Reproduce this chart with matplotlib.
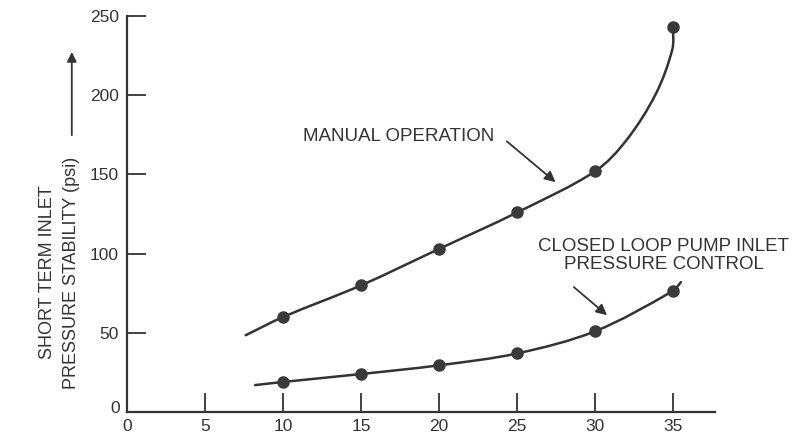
import numpy as np
import matplotlib.pyplot as plt
from matplotlib.path import Path
from matplotlib.patches import PathPatch

# measured points (markers)
manual_x = [10, 15, 20, 25, 30, 35]
manual_y = [60, 80, 103, 126, 152, 243]
closed_x = [10, 15, 20, 25, 30, 35]
closed_y = [19, 24, 29.5, 37, 51, 76.5]

# curve traces (line shape, incl. start/end of the lines)
manual_line_x = [7.6, 10, 15, 20, 25, 30, 32.0, 33.9, 34.95, 35]
manual_line_y = [48.5, 60, 80, 103, 126, 152, 171.5, 201, 229, 243]
closed_line_x = [8.2, 10, 15, 20, 25, 30, 35, 35.5]
closed_line_y = [17, 19, 24, 29.5, 37, 51, 76.5, 82]

x_ticks = [0, 5, 10, 15, 20, 25, 30, 35]
y_ticks = [0, 50, 100, 150, 200, 250]

INK = '#333333'
FONT = ['Liberation Sans', 'DejaVu Sans']
SX, SY = 15.6, 1.568  # rough px per data unit, for even curve spacing


def smooth_path(xs, ys):
    # non-uniform Catmull-Rom through the traced points -> cubic Beziers
    pts = np.column_stack([xs, ys]).astype(float)
    scaled = pts * [SX, SY]
    seg = np.linalg.norm(np.diff(scaled, axis=0), axis=1)
    t = np.concatenate([[0], np.cumsum(seg)])
    n = len(pts)
    tang = np.zeros_like(pts)
    tang[0] = (pts[1] - pts[0]) / (t[1] - t[0])
    tang[-1] = (pts[-1] - pts[-2]) / (t[-1] - t[-2])
    for i in range(1, n - 1):
        tang[i] = (pts[i + 1] - pts[i - 1]) / (t[i + 1] - t[i - 1])
    verts = [pts[0]]
    codes = [Path.MOVETO]
    for i in range(n - 1):
        h = t[i + 1] - t[i]
        verts += [pts[i] + tang[i] * h / 3, pts[i + 1] - tang[i + 1] * h / 3,
                  pts[i + 1]]
        codes += [Path.CURVE4] * 3
    return Path(verts, codes)


plt.rcParams['font.family'] = FONT

fig = plt.figure(figsize=(8.1, 4.44), dpi=100)
ax = fig.add_axes([0.157, 0.072, 0.726, 0.892])

for lx, ly in [(manual_line_x, manual_line_y), (closed_line_x, closed_line_y)]:
    ax.add_patch(PathPatch(smooth_path(lx, ly), facecolor='none',
                           edgecolor=INK, linewidth=1.8, capstyle='round'))

ax.plot(manual_x, manual_y, 'o', color='#3a3a3a', markersize=8, zorder=3)
ax.plot(closed_x, closed_y, 'o', color='#3a3a3a', markersize=8, zorder=3)

ax.set_xlim(0, 37.7)
ax.set_ylim(0, 250)
ax.set_xticks(x_ticks)
ax.set_yticks(y_ticks)
ax.set_xticklabels([str(v) for v in x_ticks])
ax.set_yticklabels([''] + [str(v) for v in y_ticks[1:]])
ax.tick_params(axis='both', direction='in', length=14, width=1.3, color=INK,
               labelsize=12.5, labelcolor=INK)
ax.tick_params(axis='y', pad=6)
ax.tick_params(axis='x', pad=5)
for s in ['top', 'right']:
    ax.spines[s].set_visible(False)
for s in ['left', 'bottom']:
    ax.spines[s].set_color(INK)
    ax.spines[s].set_linewidth(1.6)

# separate "0" at origin corner
ax.text(-0.45, 2, '0', ha='right', va='center', fontsize=12.5, color=INK)

# y label in two lines plus arrow
ax.text(-5.1, 88, 'SHORT TERM INLET', rotation=90, ha='center', va='center',
        fontsize=13, color=INK)
ax.text(-3.55, 88, 'PRESSURE STABILITY (psi)', rotation=90, ha='center',
        va='center', fontsize=13, color=INK)
ax.annotate('', xy=(-3.55, 229), xytext=(-3.55, 173), annotation_clip=False,
            arrowprops=dict(arrowstyle='-|>', color=INK, lw=1.3,
                            mutation_scale=14))

# annotations
ax.text(17.4, 174, 'MANUAL OPERATION', ha='center', va='center',
        fontsize=13.5, color=INK)
ax.annotate('', xy=(27.6, 144), xytext=(24.2, 172),
            arrowprops=dict(arrowstyle='-|>', color=INK, lw=1.3,
                            mutation_scale=16))
ax.text(34.4, 99, 'CLOSED LOOP PUMP INLET\nPRESSURE CONTROL', ha='center',
        va='center', fontsize=13.5, color=INK, linespacing=1.1)
ax.annotate('', xy=(30.9, 60), xytext=(28.5, 80),
            arrowprops=dict(arrowstyle='-|>', color=INK, lw=1.3,
                            mutation_scale=16))

fig.savefig('out.png', dpi=100)
